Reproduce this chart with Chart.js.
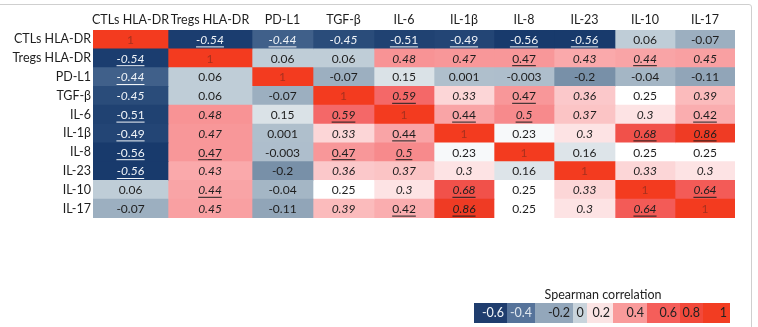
<!DOCTYPE html>
<html>
<head>
<meta charset="utf-8">
<script src="https://cdn.jsdelivr.net/npm/chart.js@4"></script>
<style>
  html, body { margin: 0; padding: 0; background: #fff; }
  body { width: 758px; height: 327px; position: relative; overflow: hidden; font-family: Lato, "Open Sans", sans-serif; }
  #wrap { position: absolute; left: 0; top: 0; width: 758px; height: 327px; }
  #frame { position: absolute; left: -6px; top: 4px; width: 756px; height: 340px; border: 1.5px solid #cfcfcf; border-radius: 3px; pointer-events: none; }
  #legend { position: absolute; left: 474px; top: 287px; width: 256px; }
  #legend .title { text-align: center; font-size: 12.5px; color: #222; margin-left: 2px; height: 16px; line-height: 16px; }
  #legend .bar { display: flex; height: 20px; }
  #legend .seg { height: 20px; line-height: 20px; font-size: 12.5px; text-align: right; padding-right: 3px; box-sizing: border-box; color: #222; }
</style>
</head>
<body>
<div id="wrap"><canvas id="heat"></canvas></div>
<div id="frame"></div>
<div id="legend">
  <div class="title">Spearman correlation</div>
  <div class="bar" id="legendBar"></div>
</div>
<script>
// row / column names (same order both ways)
const rowLabels = ["CTLs HLA-DR", "Tregs HLA-DR", "PD-L1", "TGF-β", "IL-6", "IL-1β", "IL-8", "IL-23", "IL-10", "IL-17"];
const colLabels = ["CTLs HLA-DR", "Tregs HLA-DR", "PD-L1", "TGF-β", "IL-6", "IL-1β", "IL-8", "IL-23", "IL-10", "IL-17"];

// spearman correlations, row by row
const corrCTL   = [1, -0.54, -0.44, -0.45, -0.51, -0.49, -0.56, -0.56, 0.06, -0.07];
const corrTreg  = [-0.54, 1, 0.06, 0.06, 0.48, 0.47, 0.47, 0.43, 0.44, 0.45];
const corrPDL1  = [-0.44, 0.06, 1, -0.07, 0.15, 0.001, -0.003, -0.2, -0.04, -0.11];
const corrTGFb  = [-0.45, 0.06, -0.07, 1, 0.59, 0.33, 0.47, 0.36, 0.25, 0.39];
const corrIL6   = [-0.51, 0.48, 0.15, 0.59, 1, 0.44, 0.5, 0.37, 0.3, 0.42];
const corrIL1b  = [-0.49, 0.47, 0.001, 0.33, 0.44, 1, 0.23, 0.3, 0.68, 0.86];
const corrIL8   = [-0.56, 0.47, -0.003, 0.47, 0.5, 0.23, 1, 0.16, 0.25, 0.25];
const corrIL23  = [-0.56, 0.43, -0.2, 0.36, 0.37, 0.3, 0.16, 1, 0.33, 0.3];
const corrIL10  = [0.06, 0.44, -0.04, 0.25, 0.3, 0.68, 0.25, 0.33, 1, 0.64];
const corrIL17  = [-0.07, 0.45, -0.11, 0.39, 0.42, 0.86, 0.25, 0.3, 0.64, 1];
const corr = [corrCTL, corrTreg, corrPDL1, corrTGFb, corrIL6, corrIL1b, corrIL8, corrIL23, corrIL10, corrIL17];

// significance marks: i = italic, u = underlined
const sigMarks = [
  ["", "iu", "iu", "i", "u", "u", "u", "iu", "", ""],
  ["iu", "", "", "", "i", "i", "u", "i", "iu", "i"],
  ["iu", "", "", "", "", "", "", "", "", ""],
  ["i", "", "", "", "iu", "i", "u", "i", "", "i"],
  ["u", "i", "", "iu", "", "u", "iu", "i", "i", "u"],
  ["u", "i", "", "i", "u", "", "", "i", "iu", "iu"],
  ["u", "u", "", "u", "iu", "", "", "", "", ""],
  ["iu", "i", "", "i", "i", "i", "", "", "i", "i"],
  ["", "iu", "", "", "i", "iu", "", "i", "", "iu"],
  ["", "i", "", "i", "u", "iu", "", "i", "iu", ""]
];

// legend ticks
const legendTicks = ["-0.6", "-0.4", "-0.2", "0", "0.2", "0.4", "0.6", "0.8", "1"];

// layout bits (column widths in the original are uneven)
const colWidths = [75, 84, 61, 61, 60, 60, 60, 61, 60, 60];
const legendWidths = [33, 28, 38, 14, 26, 34, 33, 23, 27];
const legendColors = ["#1f3d6e", "#56739a", "#93a7bb", "#c9d4dc", "#fbe4e4", "#f99b9b", "#f55e5a", "#f2493a", "#f23d22"];
const legendText = ["#f2f5f9", "#dfe6ee", "#222", "#222", "#222", "#222", "#222", "#222", "#222"];

const colorStops = [
  [-0.56, [24, 58, 108]],
  [-0.45, [42, 76, 122]],
  [-0.44, [64, 96, 138]],
  [-0.2, [120, 144, 168]],
  [0.06, [191, 205, 215]],
  [0.16, [221, 228, 233]],
  [0.25, [255, 255, 255]],
  [0.3, [253, 227, 228]],
  [0.45, [249, 160, 162]],
  [0.5, [247, 138, 140]],
  [0.6, [244, 100, 100]],
  [0.68, [241, 81, 74]],
  [0.86, [239, 59, 36]],
  [1, [243, 59, 31]]
];

function colorFor(v) {
  if (v <= colorStops[0][0]) return "rgb(" + colorStops[0][1].join(",") + ")";
  for (let k = 1; k < colorStops.length; k++) {
    const [v1, c1] = colorStops[k];
    const [v0, c0] = colorStops[k - 1];
    if (v <= v1) {
      const t = (v - v0) / (v1 - v0);
      const c = c0.map((a, n) => Math.round(a + (c1[n] - a) * t));
      return "rgb(" + c.join(",") + ")";
    }
  }
  return "rgb(" + colorStops[colorStops.length - 1][1].join(",") + ")";
}

const totalWidth = colWidths.reduce((a, b) => a + b, 0);
const colCenters = colWidths.map((w, j) => colWidths.slice(0, j).reduce((a, b) => a + b, 0) + w / 2);

const datasets = colLabels.map((name, j) => ({
  label: name,
  data: rowLabels.map(() => colWidths[j]),
  backgroundColor: corr.map(row => colorFor(row[j])),
  borderWidth: 0,
  barPercentage: 1,
  categoryPercentage: 1
}));

// writes the coefficient in every cell
const cellText = {
  id: "cellText",
  afterDatasetsDraw(chart) {
    const ctx = chart.ctx;
    ctx.save();
    ctx.textAlign = "center";
    ctx.textBaseline = "middle";
    chart.data.datasets.forEach((ds, j) => {
      const meta = chart.getDatasetMeta(j);
      meta.data.forEach((bar, i) => {
        const v = corr[i][j];
        const mark = sigMarks[i][j];
        const p = bar.getCenterPoint();
        const txt = String(v);
        let col = "#1e1e1e";
        if (i === j) col = "#a8301e";
        else if (v <= -0.44) col = "#f0f4f8";
        ctx.font = (mark.includes("i") ? "italic " : "") + "12px Lato, 'Open Sans', sans-serif";
        ctx.fillStyle = col;
        ctx.fillText(txt, p.x, p.y + 0.5);
        if (mark.includes("u")) {
          const w = ctx.measureText(txt).width;
          ctx.strokeStyle = col;
          ctx.lineWidth = 1;
          ctx.beginPath();
          ctx.moveTo(p.x - w / 2, p.y + 7.5);
          ctx.lineTo(p.x + w / 2, p.y + 7.5);
          ctx.stroke();
        }
      });
    });
    ctx.restore();
  }
};

new Chart(document.getElementById("heat"), {
  type: "bar",
  data: { labels: rowLabels, datasets: datasets },
  options: {
    indexAxis: "y",
    responsive: true,
    maintainAspectRatio: false,
    animation: false,
    layout: { padding: { left: 0, right: 23, top: 0, bottom: 109 } },
    plugins: { legend: { display: false }, tooltip: { enabled: false } },
    scales: {
      x: {
        type: "linear",
        position: "top",
        stacked: true,
        min: 0,
        max: totalWidth,
        grid: { display: false, drawTicks: false },
        border: { display: false },
        afterBuildTicks: (scale) => { scale.ticks = colCenters.map(v => ({ value: v })); },
        afterFit: (scale) => { scale.height = 30; },
        ticks: {
          autoSkip: false,
          maxRotation: 0,
          padding: 3,
          color: "#1e1e1e",
          font: { family: "Lato, 'Open Sans', sans-serif", size: 12.5 },
          callback: (val, idx) => colLabels[idx]
        }
      },
      y: {
        stacked: true,
        grid: { display: false, drawTicks: false },
        border: { display: false },
        afterFit: (scale) => { scale.width = 93; },
        ticks: {
          padding: 2,
          color: "#1e1e1e",
          font: { family: "Lato, 'Open Sans', sans-serif", size: 12.5 }
        }
      }
    }
  },
  plugins: [cellText]
});

// colour key
const legendBar = document.getElementById("legendBar");
legendTicks.forEach((t, k) => {
  const seg = document.createElement("div");
  seg.className = "seg";
  seg.style.width = legendWidths[k] + "px";
  seg.style.background = legendColors[k];
  seg.style.color = legendText[k];
  if (t === "0") { seg.style.textAlign = "center"; seg.style.paddingRight = "0"; }
  seg.textContent = t;
  legendBar.appendChild(seg);
});
</script>
</body>
</html>
